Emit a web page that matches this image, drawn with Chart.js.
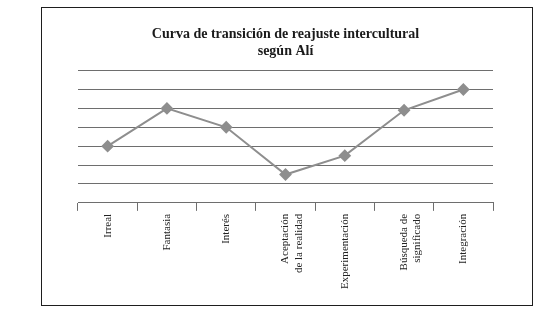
<!DOCTYPE html>
<html lang="es">

<head>
    <meta charset="UTF-8">
    <title>Curva de transición de reajuste intercultural</title>
    <script src="https://cdn.jsdelivr.net/npm/chart.js"></script>
    <style>
        body { margin: 0; background: #fff; }
        #marco {
            position: absolute; left: 41px; top: 7px;
            width: 490px; height: 297px;
            border: 1.5px solid #1e1e1e;
        }
    </style>
</head>

<body>
    <div id="marco">
        <canvas id="curva" width="490" height="297"></canvas>
    </div>

    <script>
        // Etapas y valores
        var etapas = ['Irreal', 'Fantasia', 'Interés', ['Aceptación', 'de la realidad'],
            'Experimentación', ['Búsqueda de', 'significado'], 'Integración'];
        var valores = [3, 5, 4, 1.5, 2.5, 4.9, 6];
        var titulo = ['Curva de transición de reajuste intercultural', 'según Alí'];

        var gris = '#6e6e6e';
        var ctx = document.getElementById('curva').getContext('2d');
        new Chart(ctx, {
            type: 'line',
            data: {
                labels: etapas,
                datasets: [{
                    data: valores,
                    borderColor: '#8e8e8e',
                    backgroundColor: '#8e8e8e',
                    borderWidth: 2,
                    pointStyle: 'rectRot',
                    pointRadius: 5,
                    tension: 0
                }]
            },
            options: {
                responsive: false,
                animation: false,
                layout: { padding: { left: 36, right: 39, top: 15, bottom: 13 } },
                plugins: {
                    legend: { display: false },
                    tooltip: { enabled: false },
                    title: {
                        display: true,
                        text: titulo,
                        color: '#1a1a1a',
                        font: { family: 'Liberation Serif', size: 14, weight: 'bold', lineHeight: 1.2 },
                        padding: { top: 3, bottom: 11 }
                    }
                },
                scales: {
                    x: {
                        offset: true,
                        grid: { offset: true, drawOnChartArea: false, color: gris, tickLength: 8 },
                        border: { color: gris },
                        ticks: {
                            color: '#222',
                            font: { family: 'Liberation Serif', size: 11, lineHeight: 1.2 },
                            minRotation: 90,
                            maxRotation: 90,
                            padding: 3,
                            autoSkip: false
                        }
                    },
                    y: {
                        min: 0,
                        max: 7,
                        ticks: { display: false, stepSize: 1 },
                        grid: { color: gris, drawTicks: false },
                        border: { display: false }
                    }
                }
            }
        });
    </script>
</body>

</html>
